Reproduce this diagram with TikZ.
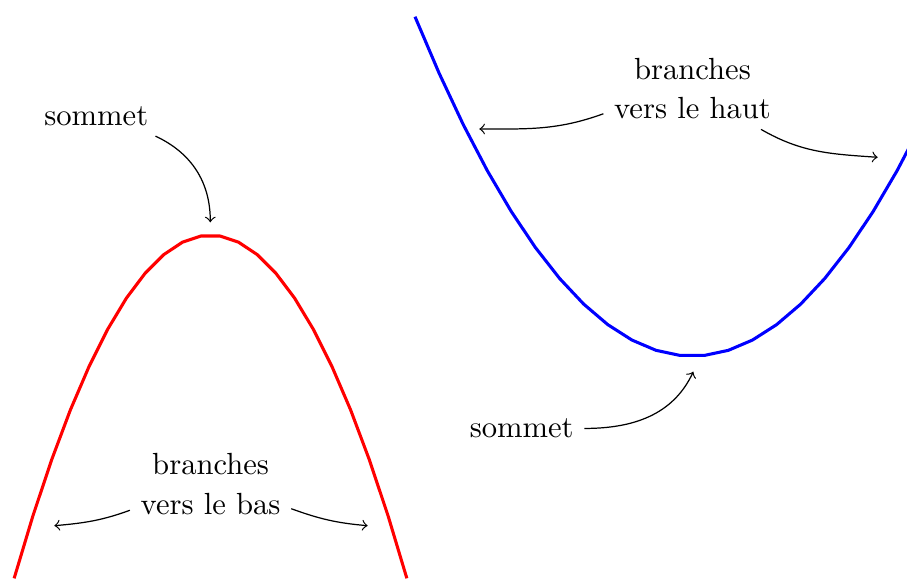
\documentclass[tikz,border=0pt]{standalone}
\begin{document}
\begin{tikzpicture}[x=0.3268pt,y=-0.3268pt,
  lbl/.style={font=\fontsize{10}{12.8}\selectfont, align=center},
  arr/.style={->, line width=0.4pt},
  curve/.style={line width=1pt}]
\useasboundingbox (0,0) rectangle (907,581);
\begin{scope}
\clip (0,0) rectangle (907,581);
\draw[red, curve] plot[domain=-1.9635:1.9635, samples=22] ({210.5+100*\x},{235.2+89*\x*\x});
\draw[blue, curve] plot[domain=-2.772:2.29, samples=22] ({692.2+100*\x},{356.1-44.17*\x*\x});
\end{scope}
% labels
\node[lbl, anchor=base] (s1) at (96.3,125) {sommet};
\node[lbl, anchor=base] (s2) at (521.7,437.7) {sommet};
\node[lbl] (h) at (692.5,88.2) {branches\\vers le haut};
\node[lbl] (b) at (210.6,484.05) {branches\\vers le bas};
% arrow targets
\coordinate (t1) at (210.3,222.3);
\coordinate (t2) at (693.3,371.7);
\coordinate (hl) at (479.3,129);
\coordinate (hr) at (877.7,157.3);
\coordinate (bl) at (54.3,525.7);
\coordinate (br) at (367.7,525.7);
% arrows
\draw[arr] (s1.-19) to[out=-25, in=90] (t1);
\draw[arr] (s2.east) to[out=0, in=-115] (t2);
\draw[arr] (h.196) to[out=200, in=0] (hl);
\draw[arr] (h.-31) to[out=-30, in=176] (hr);
\draw[arr] (b.198) to[out=200, in=5] (bl);
\draw[arr] (b.-17.5) to[out=-20, in=175] (br);
\end{tikzpicture}
\end{document}
